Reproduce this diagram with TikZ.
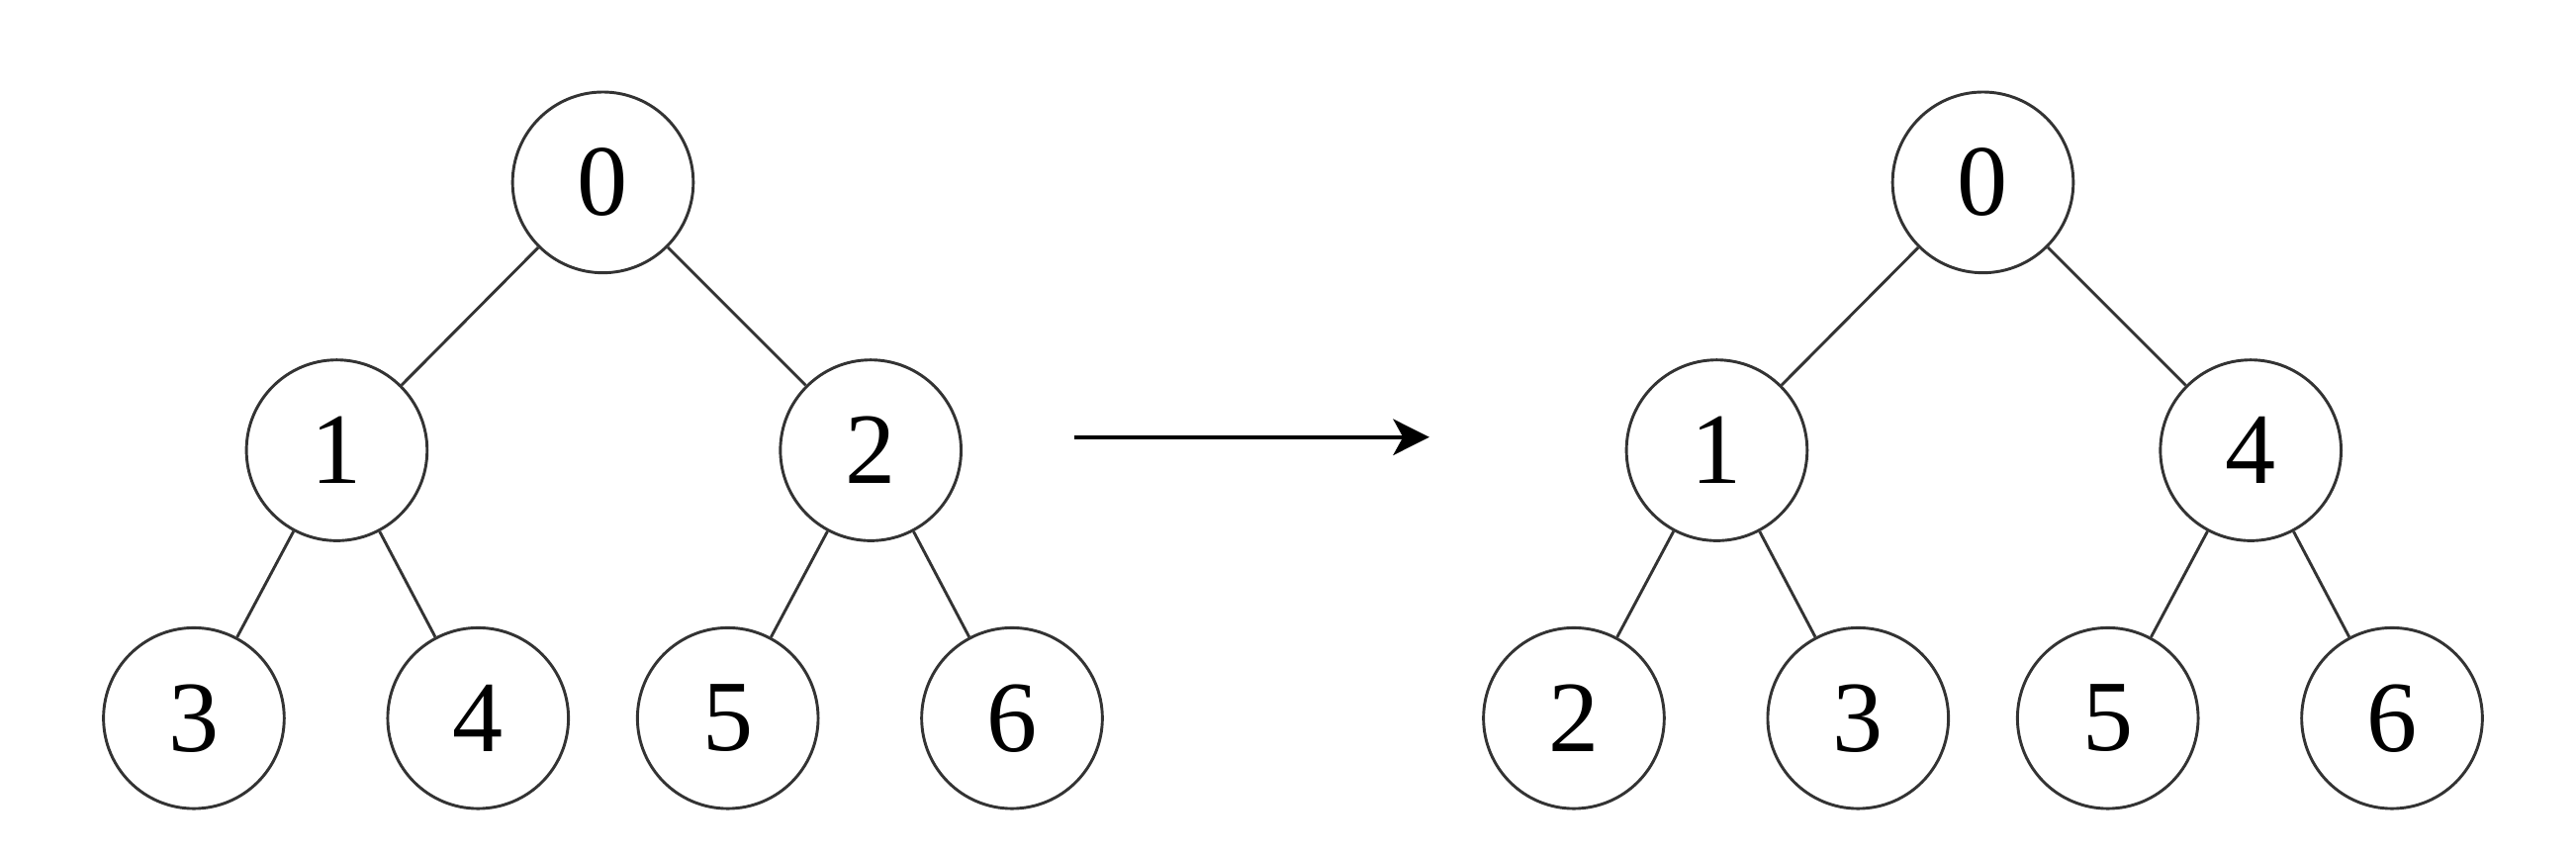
\documentclass[tikz,border=0pt]{standalone}
\usepackage{fontspec}
\setmainfont{Liberation Serif}
\usepackage{tikz}
\usetikzlibrary{arrows.meta}

\begin{document}
\begin{tikzpicture}
    [
    vtx/.style = {circle,draw=black!80,line width=0.5pt,minimum size=1.1cm,inner sep=0pt,font=\fontsize{17.5}{20}\selectfont},
    edge/.style = {draw=black!80,line width=0.5pt}
    ]
\useasboundingbox (0,0) rectangle (15.68,-5.2);

% before
\node[vtx] (a0) at (3.67,-1.11) {0};
\node[vtx] (a1) at (2.05,-2.74) {1};
\node[vtx] (a2) at (5.30,-2.74) {2};
\node[vtx] (a3) at (1.18,-4.37) {3};
\node[vtx] (a4) at (2.91,-4.37) {4};
\node[vtx] (a5) at (4.43,-4.37) {5};
\node[vtx] (a6) at (6.16,-4.37) {6};

\draw[edge] (a0) -- (a1);
\draw[edge] (a0) -- (a2);
\draw[edge] (a1) -- (a3);
\draw[edge] (a1) -- (a4);
\draw[edge] (a2) -- (a5);
\draw[edge] (a2) -- (a6);

% after
\node[vtx] (b0) at (12.07,-1.11) {0};
\node[vtx] (b1) at (10.45,-2.74) {1};
\node[vtx] (b2) at (13.70,-2.74) {4};
\node[vtx] (b3) at (9.58,-4.37) {2};
\node[vtx] (b4) at (11.31,-4.37) {3};
\node[vtx] (b5) at (12.83,-4.37) {5};
\node[vtx] (b6) at (14.56,-4.37) {6};

\draw[edge] (b0) -- (b1);
\draw[edge] (b0) -- (b2);
\draw[edge] (b1) -- (b3);
\draw[edge] (b1) -- (b4);
\draw[edge] (b2) -- (b5);
\draw[edge] (b2) -- (b6);

\coordinate (from) at (6.54,-2.66);
\coordinate (to) at (8.70,-2.66);
\draw[line width=0.6pt,-{Stealth[length=0.22cm,width=0.22cm,inset=0.06cm]}] (from) -- (to);
\end{tikzpicture}
\end{document}
